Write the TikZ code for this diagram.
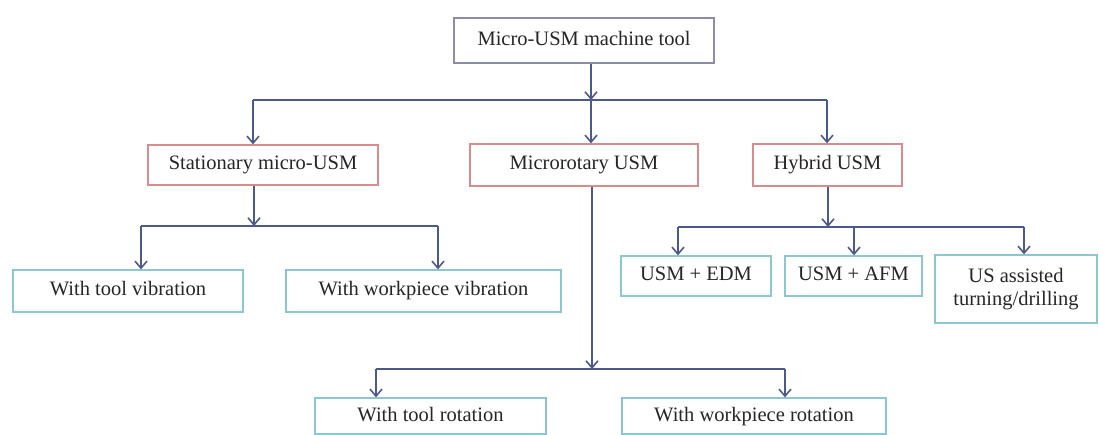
\documentclass[tikz,border=0pt]{standalone}
\usepackage{fontspec}
\setmainfont{Liberation Serif}
\usetikzlibrary{arrows.meta}
\definecolor{lineblue}{HTML}{4B5A88}
\definecolor{topborder}{HTML}{8C8CA6}
\definecolor{redborder}{HTML}{D98C8E}
\definecolor{cyanborder}{HTML}{8CC6CE}
\tikzset{
  box/.style={draw, line width=1.3pt, fill=white, inner sep=0pt, align=center,
    font=\fontsize{20.5}{23}\selectfont, text=black!85},
  onel/.style={text height=14pt, text depth=4pt},
  topbox/.style={box, onel, draw=topborder},
  redbox/.style={box, onel, draw=redborder},
  cyanbox/.style={box, onel, draw=cyanborder},
  cyanbox2/.style={box, draw=cyanborder},
  ln/.style={draw=lineblue, line width=1.7pt},
  arr/.style={ln, -{Straight Barb[length=7pt,width=12pt,line width=1.6pt]}},
}
\begin{document}
\begin{tikzpicture}[x=1pt,y=-1pt]
\useasboundingbox (0,0) rectangle (1099,435);
% nodes
\node[topbox, minimum width=260pt, minimum height=45pt] (top) at (584,40.5) {Micro-USM machine tool};
\node[redbox, minimum width=230pt, minimum height=40pt] (stat) at (263,165) {Stationary micro-USM};
\node[redbox, minimum width=228pt, minimum height=42pt] (micro) at (584,165) {Microrotary USM};
\node[redbox, minimum width=149pt, minimum height=42pt] (hyb) at (827.5,165) {Hybrid USM};
\node[cyanbox, minimum width=230pt, minimum height=42pt] (tv) at (128,291) {With tool vibration};
\node[cyanbox, minimum width=275pt, minimum height=42pt] (wv) at (423.5,291) {With workpiece vibration};
\node[cyanbox, minimum width=150pt, minimum height=40pt] (edm) at (696,276) {USM + EDM};
\node[cyanbox, minimum width=137pt, minimum height=40pt] (afm) at (853.5,276) {USM + AFM};
\node[cyanbox2, minimum width=162pt, minimum height=68pt] (usa) at (1016,289) {US assisted\\turning/drilling};
\node[cyanbox, minimum width=231pt, minimum height=36pt] (tr) at (430.5,416) {With tool rotation};
\node[cyanbox, minimum width=264pt, minimum height=36pt] (wr) at (754,416) {With workpiece rotation};
% junctions
\coordinate (j1) at (591,100);
\coordinate (j1a) at (253,100);
\coordinate (j1c) at (827,100);
\coordinate (j2) at (254,226);
\coordinate (j2a) at (141,226);
\coordinate (j2b) at (438,226);
\coordinate (j3) at (828,227);
\coordinate (j3a) at (678,227);
\coordinate (j3b) at (854,227);
\coordinate (j3c) at (1024,227);
\coordinate (j4) at (592,369);
\coordinate (j4a) at (376,369);
\coordinate (j4b) at (785,369);
% level 1
\draw[ln] (j1a) -- (j1c);
\draw[arr] (top.south -| j1) -- (j1);
\draw[arr] (j1a) -- (j1a |- stat.north);
\draw[arr] (j1) -- (j1 |- micro.north);
\draw[arr] (j1c) -- (j1c |- hyb.north);
% stationary
\draw[ln] (j2a) -- (j2b);
\draw[arr] (stat.south -| j2) -- (j2);
\draw[arr] (j2a) -- (j2a |- tv.north);
\draw[arr] (j2b) -- (j2b |- wv.north);
% hybrid
\draw[ln] (j3a) -- (j3c);
\draw[arr] (hyb.south -| j3) -- (j3);
\draw[arr] (j3a) -- (j3a |- edm.north);
\draw[arr] (j3b) -- (j3b |- afm.north);
\draw[arr] (j3c) -- (j3c |- usa.north);
% microrotary
\draw[ln] (j4a) -- (j4b);
\draw[arr] (micro.south -| j4) -- (j4);
\draw[arr] (j4a) -- (j4a |- tr.north);
\draw[arr] (j4b) -- (j4b |- wr.north);
\end{tikzpicture}
\end{document}
